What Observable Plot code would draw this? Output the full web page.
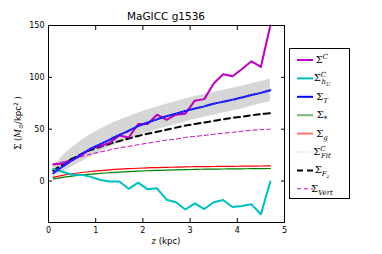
<!DOCTYPE html>
<html><head><meta charset="utf-8">
<script src="https://cdn.jsdelivr.net/npm/d3@7"></script>
<script src="https://cdn.jsdelivr.net/npm/@observablehq/plot@0.6"></script>
<style>body{margin:0;background:#fff}</style>
</head><body><div id="chart"></div>
<script>
const z = [0.1,0.3,0.5,0.7,0.9,1.1,1.3,1.5,1.7,1.9,2.1,2.3,2.5,2.7,2.9,3.1,3.3,3.5,3.7,3.9,4.1,4.3,4.5,4.7];
const sigmaC   = [16,17,20,25,31.5,33.5,37,44,42,55,55,64,59,64,65,77.5,79,94,103,101,108,115.5,110,150];
const sigmaHv  = [11.6,9,6,6,4,1,-0.5,-0.5,-7.5,-1.5,-8,-7,-18,-20.5,-27.5,-21.5,-27,-20.5,-18.3,-25,-24,-22.5,-32,-0.5];
const sigmaT   = [7.5,14,20,26,31,35.5,40,44.5,48.5,53,56.5,59.5,62.5,65,67.5,70,72,74.5,76.5,78.5,80.5,83,85,87.5];
const bandHi   = [13,24,32,39,45,50,54.5,58.5,62,65.5,68.5,71.5,74,76.5,79,81.5,83.5,85.5,87.5,89.5,91.5,93.5,96,98.5];
const bandLo   = [4,8.5,13.5,18.5,23.5,28,32.5,36.5,40,43.5,46.5,49.5,52,54.5,57,59.5,61.5,63.5,65.5,67.5,69.5,72,74.5,76.5];
const sigmaStar= [2,3.5,4.8,5.8,6.7,7.4,8,8.6,9.1,9.5,9.9,10.2,10.5,10.8,11,11.2,11.4,11.5,11.6,11.7,11.8,11.9,12,12.1];
const sigmaG   = [3.5,5.5,7,8.2,9.2,10,10.8,11.4,11.9,12.3,12.7,13,13.2,13.4,13.6,13.8,13.9,14,14.1,14.2,14.3,14.4,14.5,14.6];
const sigmaFit = sigmaT.slice();
const sigmaFz  = [10,16,21.5,26,30,33,36,38.5,41,43.5,45.5,47.5,49.5,51.5,53.5,55,56.5,58,59.5,61,62,63.5,64.5,65.5];
const sigmaVert= [16.5,18.5,21,23.5,26,28,30,32,33.5,35,36.5,38,39.5,40.5,42,43,44,45,46,47,48,49,49.5,50];
const xTicks = [0,1,2,3,4,5];
const yTicks = [0,50,100,150];

const rows = z.map((v,i)=>({z:v,C:sigmaC[i],Hv:sigmaHv[i],T:sigmaT[i],hi:bandHi[i],lo:bandLo[i],S:sigmaStar[i],G:sigmaG[i],Fit:sigmaFit[i],Fz:sigmaFz[i],V:sigmaVert[i]}));

const series = [
  {key:"C", color:"#bf00bf", w:2, dash:null, curve:"linear", op:1},
  {key:"Hv", color:"#00bfbf", w:2, dash:null, curve:"linear", op:1},
  {key:"T", color:"#0000ff", w:2, dash:null, curve:"catmull-rom", op:1},
  {key:"S", color:"#008000", w:1.2, dash:null, curve:"catmull-rom", op:1},
  {key:"G", color:"#ff0000", w:1.2, dash:null, curve:"catmull-rom", op:1},
  {key:"Fit", color:"#c8c8c8", w:0.7, dash:"1,2", curve:"catmull-rom", op:0.6},
  {key:"Fz", color:"#000000", w:2, dash:"6,4", curve:"catmull-rom", op:1},
  {key:"V", color:"#bf00bf", w:1, dash:"4,3", curve:"catmull-rom", op:1}
];

const order = ["S","G","V","Fz","C","Hv","T","Fit"];
const lineMarks = order.map(k=>{
  const s = series.find(d=>d.key===k);
  return Plot.line(rows,{x:"z",y:k,stroke:s.color,strokeWidth:s.w,strokeDasharray:s.dash,strokeOpacity:s.op,curve:s.curve});
});

const svg = Plot.plot({
  width:382, height:254,
  marginLeft:48, marginRight:98, marginTop:25, marginBottom:32,
  style:{fontFamily:"DejaVu Sans, sans-serif", fontSize:"8px", color:"#000", background:"#fff"},
  x:{domain:[0,5]},
  y:{domain:[-40,150]},
  marks:[
    Plot.areaY(rows,{x:"z",y1:"lo",y2:"hi",fill:"#d6d6d6",curve:"catmull-rom"}),
    ...lineMarks,
    Plot.frame({stroke:"#000",strokeWidth:1}),
    Plot.axisX(xTicks,{anchor:"bottom",tickSize:0,tickPadding:5,label:null}),
    Plot.axisY(yTicks,{anchor:"left",tickSize:0,tickPadding:4,label:null}),
    Plot.axisX(xTicks,{anchor:"bottom",tickSize:-4,text:null,label:null}),
    Plot.axisX(xTicks,{anchor:"top",tickSize:-4,text:null,label:null}),
    Plot.axisY(yTicks,{anchor:"left",tickSize:-4,text:null,label:null}),
    Plot.axisY(yTicks,{anchor:"right",tickSize:-4,text:null,label:null})
  ]
});
document.getElementById("chart").appendChild(svg);

const s = d3.select(svg);
const serif = "DejaVu Serif, serif";
// title
s.append("text").attr("x",166).attr("y",20).attr("text-anchor","middle")
  .attr("font-family","DejaVu Sans, sans-serif").attr("font-size",10.5).text("MaGICC g1536");
// x label
const xl = s.append("text").attr("x",166).attr("y",244).attr("text-anchor","middle")
  .attr("font-family","DejaVu Sans, sans-serif").attr("font-size",8.5);
xl.append("tspan").attr("font-family",serif).attr("font-style","italic").text("z");
xl.append("tspan").text(" (kpc)");
// y label
const yl = s.append("text").attr("transform","translate(21,123) rotate(-90)").attr("text-anchor","middle")
  .attr("font-family","DejaVu Sans, sans-serif").attr("font-size",8.5);
yl.append("tspan").attr("font-family",serif).text("Σ (");
yl.append("tspan").attr("font-family",serif).attr("font-style","italic").text("M");
yl.append("tspan").attr("font-family",serif).attr("font-size",6).attr("dy",2).text("⊙");
yl.append("tspan").attr("dy",-2).text("/kpc");
yl.append("tspan").attr("font-size",6).attr("dy",-3).text("2");
yl.append("tspan").attr("dy",3).text(" )");

// legend
const labels = {
  C:{sup:"C"}, Hv:{sup:"C",sub:"h",subsub:"U"}, T:{sub:"T"}, S:{sub:"*",upright:true}, G:{sub:"g"},
  Fit:{sup:"C",sub:"Fit"}, Fz:{sub:"F",subsub:"z"}, V:{sub:"Vert"}
};
const legOrder = ["C","Hv","T","S","G","Fit","Fz","V"];
const leg = s.append("g");
leg.append("rect").attr("x",289.5).attr("y",48.5).attr("width",60).attr("height",150)
  .attr("fill","#fff").attr("stroke","#000").attr("stroke-width",1);
legOrder.forEach((k,i)=>{
  const sd = series.find(d=>d.key===k);
  const y = 60 + i*18.4;
  const faded = (k==="S"||k==="G");
  leg.append("line").attr("x1",297).attr("x2",313).attr("y1",y).attr("y2",y)
    .attr("stroke",sd.color).attr("stroke-width",sd.key==="V"||sd.key==="Fit"?1:2)
    .attr("stroke-opacity",faded?0.55:1)
    .attr("stroke-dasharray",sd.dash);
  const L = labels[k];
  const t = leg.append("text").attr("x",322).attr("y",y+3).attr("font-family",serif).attr("font-size",10);
  t.append("tspan").text("Σ");
  if (L.sup && L.sub) {
    t.append("tspan").attr("font-size",7).attr("font-style","italic").attr("dy",-4).text(L.sup);
    t.append("tspan").attr("font-size",7).attr("font-style","italic").attr("dx",-4.7).attr("dy",7).text(L.sub);
    if (L.subsub) t.append("tspan").attr("font-size",5).attr("font-style","italic").attr("dy",1.5).text(L.subsub);
  } else if (L.sup) {
    t.append("tspan").attr("font-size",7).attr("font-style","italic").attr("dy",-4).text(L.sup);
  } else {
    t.append("tspan").attr("font-size",7).attr("font-style",L.upright?"normal":"italic").attr("dy",3).text(L.sub);
    if (L.subsub) t.append("tspan").attr("font-size",5).attr("font-style","italic").attr("dy",1.5).text(L.subsub);
  }
});
</script>
</body></html>
